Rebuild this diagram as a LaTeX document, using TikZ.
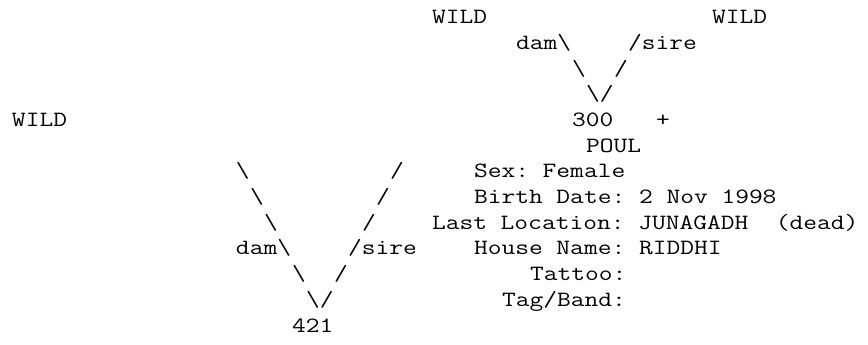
\documentclass[tikz,border=0pt]{standalone}
\usepackage{fontspec}
\newfontfamily\pedfont[FakeStretch=1.225]{Latin Modern Mono}
\tikzset{
    chars/.style={anchor=base west, inner sep=0pt, outer sep=0pt,
        font=\pedfont\fontsize{21.8pt}{25.7pt}\selectfont\frenchspacing}
}
\newcommand{\bs}{\textbackslash}

\begin{document}
\begin{tikzpicture}[x=14pt, y=-25.7pt]
    \useasboundingbox (-0.857,-0.922) rectangle (61.143,12.502);
    % upper parents
    \node[chars] (wildDam) at (30,0) {WILD};
    \node[chars] (wildSire) at (50,0) {WILD};
    \node[chars] (damTop) at (36,1) {dam\bs};
    \node[chars] (sireTop) at (44,1) {/sire};
    \node[chars] (vTopA) at (40,2) {\bs};
    \node[chars] (vTopB) at (43,2) {/};
    \node[chars] (vTopC) at (41,3) {\bs/};
    % line of 300
    \node[chars] (wildLeft) at (0,4) {WILD};
    \node[chars] (sire) at (40,4) {300};
    \node[chars] (plus) at (46,4) {+};
    \node[chars] (poul) at (41,5) {POUL};
    % lower v
    \foreach \i in {0,1,2} {
        \node[chars] (vLowL\i) at (16+\i,6+\i) {\bs};
        \node[chars] (vLowR\i) at (27-\i,6+\i) {/};
    }
    \node[chars] (damLow) at (16,9) {dam\bs};
    \node[chars] (sireLow) at (24,9) {/sire};
    \node[chars] (vLowA) at (20,10) {\bs};
    \node[chars] (vLowB) at (23,10) {/};
    \node[chars] (vLowC) at (21,11) {\bs/};
    \node[chars] (animal) at (20,12) {421};
    % record of the animal
    \node[chars] (sex) at (33,6) {Sex: Female};
    \node[chars] (birth) at (33,7) {Birth Date: 2 Nov 1998};
    \node[chars] (location) at (30,8) {Last Location: JUNAGADH~~(dead)};
    \node[chars] (house) at (33,9) {House Name: RIDDHI};
    \node[chars] (tattoo) at (37,10) {Tattoo:};
    \node[chars] (band) at (35,11) {Tag/Band:};
\end{tikzpicture}
\end{document}
